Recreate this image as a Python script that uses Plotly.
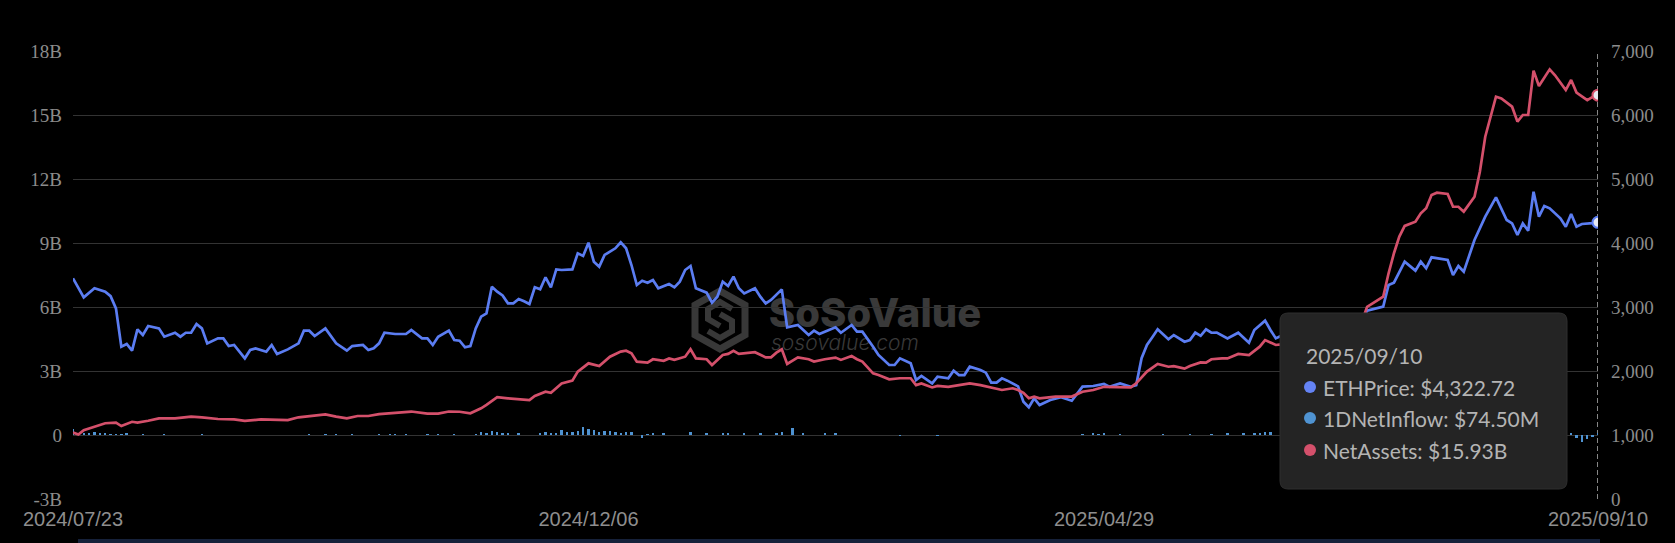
import plotly.graph_objects as go

# ---------------- data ----------------
holidays = ["2024-09-02", "2024-11-28", "2024-12-25", "2025-01-01", "2025-01-09",
            "2025-01-20", "2025-02-17", "2025-04-18", "2025-05-26", "2025-06-19",
            "2025-07-04", "2025-09-01"]

tick_dates = ["2024-07-23", "2024-12-06", "2025-04-29", "2025-09-10"]
tick_labels = ["2024/07/23", "2024/12/06", "2025/04/29", "2025/09/10"]

left_ticks = [-3, 0, 3, 6, 9, 12, 15, 18]
left_labels = ["-3B", "0", "3B", "6B", "9B", "12B", "15B", "18B"]
right_ticks = [0, 1000, 2000, 3000, 4000, 5000, 6000, 7000]

price_dates = [
    "2024-07-23", "2024-07-25", "2024-07-29", "2024-07-31", "2024-08-01", "2024-08-02", "2024-08-05",
    "2024-08-06", "2024-08-07", "2024-08-08", "2024-08-09", "2024-08-12", "2024-08-14", "2024-08-15",
    "2024-08-19", "2024-08-20", "2024-08-21", "2024-08-22", "2024-08-23", "2024-08-26", "2024-08-27",
    "2024-08-29", "2024-08-30", "2024-09-03", "2024-09-04", "2024-09-05", "2024-09-06", "2024-09-09",
    "2024-09-10", "2024-09-12", "2024-09-13", "2024-09-16", "2024-09-18", "2024-09-20", "2024-09-23",
    "2024-09-24", "2024-09-25", "2024-09-27", "2024-10-01", "2024-10-03", "2024-10-04", "2024-10-08",
    "2024-10-09", "2024-10-10", "2024-10-11", "2024-10-14", "2024-10-16", "2024-10-18", "2024-10-21",
    "2024-10-23", "2024-10-24", "2024-10-25", "2024-10-28", "2024-10-30", "2024-10-31", "2024-11-01",
    "2024-11-04", "2024-11-05", "2024-11-06", "2024-11-07", "2024-11-08", "2024-11-11", "2024-11-12",
    "2024-11-13", "2024-11-14", "2024-11-15", "2024-11-18", "2024-11-19", "2024-11-20", "2024-11-21",
    "2024-11-22", "2024-11-25", "2024-11-26", "2024-11-27", "2024-11-29", "2024-12-03", "2024-12-04",
    "2024-12-05", "2024-12-06", "2024-12-09", "2024-12-10", "2024-12-11", "2024-12-12", "2024-12-13",
    "2024-12-16", "2024-12-17", "2024-12-18", "2024-12-19", "2024-12-20", "2024-12-23", "2024-12-24",
    "2024-12-26", "2024-12-30", "2024-12-31", "2025-01-02", "2025-01-03", "2025-01-06", "2025-01-07",
    "2025-01-10", "2025-01-13", "2025-01-14", "2025-01-15", "2025-01-16", "2025-01-17", "2025-01-21",
    "2025-01-22", "2025-01-24", "2025-01-27", "2025-01-28", "2025-01-29", "2025-01-31", "2025-02-03",
    "2025-02-05", "2025-02-07", "2025-02-10", "2025-02-11", "2025-02-12", "2025-02-14", "2025-02-18",
    "2025-02-20", "2025-02-21", "2025-02-24", "2025-02-26", "2025-02-27", "2025-03-03", "2025-03-04",
    "2025-03-05", "2025-03-07", "2025-03-10", "2025-03-11", "2025-03-13", "2025-03-14", "2025-03-18",
    "2025-03-19", "2025-03-20", "2025-03-21", "2025-03-24", "2025-03-26", "2025-03-27", "2025-03-28",
    "2025-03-31", "2025-04-01", "2025-04-02", "2025-04-03", "2025-04-04", "2025-04-07", "2025-04-08",
    "2025-04-09", "2025-04-10", "2025-04-14", "2025-04-16", "2025-04-21", "2025-04-23", "2025-04-25",
    "2025-04-29", "2025-04-30", "2025-05-02", "2025-05-06", "2025-05-07", "2025-05-08", "2025-05-09",
    "2025-05-12", "2025-05-13", "2025-05-15", "2025-05-16", "2025-05-20", "2025-05-21", "2025-05-22",
    "2025-05-23", "2025-05-27", "2025-05-28", "2025-05-29", "2025-06-02", "2025-06-04", "2025-06-06",
    "2025-06-09", "2025-06-11", "2025-06-12", "2025-06-13", "2025-06-16", "2025-06-17", "2025-06-18",
    "2025-06-20", "2025-06-23", "2025-06-24", "2025-06-25", "2025-06-26", "2025-06-27", "2025-06-30",
    "2025-07-01", "2025-07-02", "2025-07-03", "2025-07-07", "2025-07-08", "2025-07-09", "2025-07-10",
    "2025-07-15", "2025-07-16", "2025-07-17", "2025-07-21", "2025-07-23", "2025-07-24", "2025-07-25",
    "2025-07-28", "2025-07-31", "2025-08-01", "2025-08-04", "2025-08-05", "2025-08-07", "2025-08-11",
    "2025-08-13", "2025-08-15", "2025-08-18", "2025-08-19", "2025-08-20", "2025-08-21", "2025-08-22",
    "2025-08-25", "2025-08-26", "2025-08-27", "2025-08-29", "2025-09-02", "2025-09-03", "2025-09-04",
    "2025-09-05", "2025-09-08", "2025-09-09", "2025-09-10"]
price_vals = [
    3448, 3151, 3292, 3240, 3170, 2979, 2380,
    2422, 2318, 2651, 2562, 2703, 2666, 2536,
    2598, 2536, 2598, 2598, 2734, 2666, 2432,
    2510, 2510, 2390, 2406, 2302, 2198, 2328,
    2354, 2302, 2406, 2265, 2338, 2432, 2630,
    2630, 2547, 2666, 2432, 2318, 2390, 2406,
    2328, 2354, 2432, 2598, 2578, 2578, 2640,
    2510, 2510, 2406, 2536, 2630, 2484, 2474,
    2370, 2390, 2666, 2849, 2901, 3317, 3240,
    3180, 3057, 3057, 3125, 3090, 3047, 3307,
    3276, 3464, 3307, 3588, 3578, 3588, 3839,
    3797, 4005, 3708, 3630, 3813, 3860, 3917,
    4010, 3917, 3656, 3344, 3411, 3380, 3422,
    3292, 3359, 3307, 3396, 3578, 3641, 3292,
    3224, 3068, 3161, 3396, 3328, 3474, 3292,
    3213, 3292, 3161, 3057, 3109, 3276, 2682,
    2719, 2562, 2630, 2578, 2614, 2682, 2598,
    2719, 2614, 2614, 2380, 2250, 2094, 2094,
    2198, 2120, 1859, 1922, 1807, 1911, 1885,
    2005, 1937, 1937, 2067, 2015, 1974, 1818,
    1818, 1885, 1849, 1800, 1760, 1520, 1433,
    1573, 1469, 1547, 1589, 1536, 1755, 1766,
    1797, 1755, 1807, 1755, 1780, 2200, 2406,
    2526, 2651, 2495, 2562, 2458, 2484, 2600,
    2550, 2651, 2598, 2600, 2510, 2598, 2443,
    2640, 2786, 2640, 2510, 2550, 2510, 2525,
    2420, 2400, 2450, 2420, 2430, 2420, 2490,
    2400, 2570, 2590, 2540, 2610, 2770, 2942,
    3005, 3344, 3380, 3708, 3568, 3708, 3604,
    3776, 3734, 3500, 3641, 3552, 4047, 4411,
    4714, 4359, 4307, 4125, 4307, 4192, 4802,
    4411, 4578, 4542, 4386, 4255, 4453, 4255,
    4297, 4300, 4310, 4322.72]

assets_dates = [
    "2024-07-23", "2024-07-24", "2024-07-25", "2024-07-29", "2024-07-31", "2024-08-02", "2024-08-05",
    "2024-08-07", "2024-08-08", "2024-08-12", "2024-08-14", "2024-08-19", "2024-08-22", "2024-08-26",
    "2024-08-29", "2024-09-04", "2024-09-06", "2024-09-11", "2024-09-16", "2024-09-18", "2024-09-20",
    "2024-09-24", "2024-09-27", "2024-10-01", "2024-10-03", "2024-10-07", "2024-10-09", "2024-10-11",
    "2024-10-16", "2024-10-18", "2024-10-21", "2024-10-24", "2024-10-28", "2024-10-30", "2024-11-01",
    "2024-11-05", "2024-11-07", "2024-11-08", "2024-11-12", "2024-11-14", "2024-11-18", "2024-11-20",
    "2024-11-21", "2024-11-25", "2024-11-26", "2024-11-29", "2024-12-03", "2024-12-04", "2024-12-06",
    "2024-12-10", "2024-12-12", "2024-12-16", "2024-12-17", "2024-12-18", "2024-12-19", "2024-12-23",
    "2024-12-24", "2024-12-27", "2024-12-30", "2024-12-31", "2025-01-03", "2025-01-06", "2025-01-07",
    "2025-01-10", "2025-01-13", "2025-01-15", "2025-01-16", "2025-01-17", "2025-01-21", "2025-01-24",
    "2025-01-28", "2025-01-29", "2025-01-30", "2025-01-31", "2025-02-03", "2025-02-05", "2025-02-07",
    "2025-02-10", "2025-02-12", "2025-02-14", "2025-02-18", "2025-02-20", "2025-02-21", "2025-02-24",
    "2025-02-26", "2025-02-27", "2025-03-03", "2025-03-05", "2025-03-07", "2025-03-10", "2025-03-11",
    "2025-03-13", "2025-03-14", "2025-03-18", "2025-03-20", "2025-03-24", "2025-03-26", "2025-03-28",
    "2025-04-01", "2025-04-03", "2025-04-04", "2025-04-07", "2025-04-08", "2025-04-09", "2025-04-10",
    "2025-04-15", "2025-04-17", "2025-04-21", "2025-04-23", "2025-04-25", "2025-04-29", "2025-05-02",
    "2025-05-06", "2025-05-07", "2025-05-09", "2025-05-13", "2025-05-15", "2025-05-16", "2025-05-20",
    "2025-05-21", "2025-05-23", "2025-05-27", "2025-05-28", "2025-05-30", "2025-06-02", "2025-06-04",
    "2025-06-06", "2025-06-10", "2025-06-11", "2025-06-13", "2025-06-16", "2025-06-17", "2025-06-18",
    "2025-06-20", "2025-06-23", "2025-06-24", "2025-06-25", "2025-06-26", "2025-06-27", "2025-06-30",
    "2025-07-01", "2025-07-02", "2025-07-03", "2025-07-07", "2025-07-08", "2025-07-09", "2025-07-10",
    "2025-07-15", "2025-07-16", "2025-07-17", "2025-07-18", "2025-07-21", "2025-07-23", "2025-07-24",
    "2025-07-25", "2025-07-28", "2025-07-29", "2025-07-31", "2025-08-01", "2025-08-04", "2025-08-05",
    "2025-08-07", "2025-08-08", "2025-08-11", "2025-08-13", "2025-08-14", "2025-08-18", "2025-08-19",
    "2025-08-20", "2025-08-21", "2025-08-22", "2025-08-25", "2025-08-27", "2025-08-28", "2025-09-02",
    "2025-09-03", "2025-09-04", "2025-09-08", "2025-09-09", "2025-09-10"]
assets_vals = [
    0.12, 0.02, 0.23, 0.39, 0.55, 0.58, 0.42,
    0.62, 0.58, 0.67, 0.78, 0.78, 0.86, 0.83,
    0.75, 0.73, 0.66, 0.73, 0.73, 0.70, 0.83,
    0.89, 0.97, 0.86, 0.78, 0.89, 0.89, 0.98,
    1.03, 1.09, 1.10, 1.00, 1.00, 1.10, 1.09,
    1.02, 1.25, 1.41, 1.77, 1.72, 1.69, 1.64,
    1.83, 2.03, 1.98, 2.42, 2.55, 2.97, 3.36,
    3.23, 3.67, 3.91, 3.95, 3.83, 3.44, 3.39,
    3.55, 3.48, 3.59, 3.52, 3.67, 4.02, 3.59,
    3.55, 3.28, 3.75, 3.80, 3.95, 3.80, 3.88,
    3.64, 3.64, 3.86, 4.02, 3.33, 3.64, 3.55,
    3.44, 3.55, 3.63, 3.52, 3.70, 3.55, 3.44,
    2.89, 2.81, 2.61, 2.66, 2.66, 2.34, 2.42,
    2.23, 2.30, 2.26, 2.34, 2.42, 2.34, 2.23,
    2.11, 2.19, 2.11, 1.98, 1.72, 1.80, 1.72,
    1.80, 1.80, 1.80, 2.03, 2.11, 2.26, 2.26,
    2.23, 2.42, 2.97, 3.33, 3.20, 3.23, 3.11,
    3.23, 3.40, 3.39, 3.55, 3.59, 3.59, 3.80,
    3.75, 4.14, 4.45, 4.22, 4.25, 4.20, 4.15,
    4.05, 4.00, 4.15, 4.15, 4.20, 4.25, 4.35,
    4.30, 4.55, 4.70, 4.70, 4.85, 5.30, 6.01,
    6.48, 7.58, 8.52, 9.30, 9.80, 10.00, 10.39,
    10.63, 11.25, 11.36, 11.30, 10.70, 10.70, 10.47,
    11.17, 12.34, 13.98, 15.86, 15.78, 15.39, 14.69,
    15.00, 15.00, 17.08, 16.36, 17.14, 16.86, 16.17,
    16.64, 16.05, 15.70, 15.85, 15.93]

# 1D net inflow, $M
inflow_dates = [
    "2024-07-23", "2024-07-24", "2024-07-25", "2024-07-26", "2024-07-29", "2024-07-30", "2024-07-31",
    "2024-08-01", "2024-08-02", "2024-08-05", "2024-08-06", "2024-08-09", "2024-08-15", "2024-08-26",
    "2024-09-24", "2024-09-27", "2024-10-01", "2024-10-04", "2024-10-11", "2024-10-15", "2024-10-16",
    "2024-10-18", "2024-10-24", "2024-10-28", "2024-10-31", "2024-11-06", "2024-11-07", "2024-11-08",
    "2024-11-11", "2024-11-12", "2024-11-13", "2024-11-14", "2024-11-18", "2024-11-22", "2024-11-25",
    "2024-11-26", "2024-11-27", "2024-11-29", "2024-12-02", "2024-12-03", "2024-12-04", "2024-12-05",
    "2024-12-06", "2024-12-09", "2024-12-10", "2024-12-11", "2024-12-12", "2024-12-13", "2024-12-16",
    "2024-12-17", "2024-12-18", "2024-12-20", "2024-12-23", "2024-12-24", "2024-12-27", "2025-01-06",
    "2025-01-10", "2025-01-15", "2025-01-16", "2025-01-22", "2025-01-27", "2025-01-30", "2025-01-31",
    "2025-02-04", "2025-02-06", "2025-02-12", "2025-02-14", "2025-03-05", "2025-03-14", "2025-04-23",
    "2025-04-25", "2025-04-28", "2025-04-29", "2025-05-02", "2025-05-14", "2025-05-21", "2025-05-28",
    "2025-06-02", "2025-06-05", "2025-06-09", "2025-06-10", "2025-06-11", "2025-06-12", "2025-07-10",
    "2025-07-11", "2025-07-16", "2025-07-17", "2025-07-18", "2025-07-21", "2025-07-22", "2025-07-23",
    "2025-07-25", "2025-07-29", "2025-08-08", "2025-08-11", "2025-08-12", "2025-08-13", "2025-08-14",
    "2025-08-15", "2025-08-19", "2025-08-21", "2025-08-22", "2025-08-25", "2025-08-26", "2025-08-27",
    "2025-08-28", "2025-08-29", "2025-09-02", "2025-09-03", "2025-09-04", "2025-09-05", "2025-09-08",
    "2025-09-09", "2025-09-10"]
inflow_vals = [
    266, 17, 70, 50, 118, 58, 50,
    26, 40, 47, 60, 20, 10, 8,
    15, 25, 15, 20, 15, 30, 20,
    25, 15, 20, 30, 20, 120, 90,
    200, 130, 100, 60, 50, 100, 140,
    60, 70, 250, 120, 130, 200, 390,
    300, 230, 140, 190, 200, 160, 90,
    150, 130, -120, 40, 60, 80, 125,
    60, 80, 100, 100, 50, 100, 150,
    320, 100, 50, 60, -20, -30, 40,
    50, 40, 60, 30, 40, 30, 40,
    70, 60, 50, 80, 130, 120, 300,
    200, 490, 550, 440, 300, 400, 330,
    440, 250, 250, 640, 320, 520, 500,
    340, -300, 230, 230, 320, 260, 260,
    300, -60, -130, 50, -150, -309, -190,
    -100, 74.5]

# ---------------- styling ----------------
BG = "#000000"
GRID = "#333333"
LABEL = "#8c8c8c"
BLUE = "#5b7df2"
RED = "#d4506b"
BAR = "#4f93d2"

L, R, T, B = 73, 1598, 51, 499


def fx(x):
    return (x - L) / (R - L)


def fy(y):
    return (B - y) / (B - T)


fig = go.Figure()

fig.add_trace(go.Scatter(x=price_dates, y=price_vals, mode="lines", name="ETHPrice",
                         line=dict(color=BLUE, width=2.7), yaxis="y"))
fig.add_trace(go.Bar(x=inflow_dates, y=[v / 1000 for v in inflow_vals], name="1DNetInflow",
                     marker=dict(color=BAR, line=dict(width=0)), width=0.45 * 86400000,
                     yaxis="y2"))
fig.add_trace(go.Scatter(x=assets_dates, y=assets_vals, mode="lines", name="NetAssets",
                         line=dict(color=RED, width=2.7), yaxis="y2"))
# end markers
fig.add_trace(go.Scatter(x=[price_dates[-1]], y=[price_vals[-1]], mode="markers",
                         marker=dict(size=11, color="#e6e8f2", line=dict(color=BLUE, width=2)),
                         yaxis="y"))
fig.add_trace(go.Scatter(x=[assets_dates[-1]], y=[assets_vals[-1]], mode="markers",
                         marker=dict(size=11, color="#e6e8f2", line=dict(color=RED, width=2)),
                         yaxis="y2"))

shapes = []
# watermark (below everything)
hexpath = "M {} {} L {} {} L {} {} L {} {} L {} {} L {} {} Z".format(
    fx(720), fy(291), fx(745), fy(305), fx(745), fy(335), fx(720), fy(349), fx(695), fy(335), fx(695), fy(305))
shapes.append(dict(type="path", xref="paper", yref="paper", path=hexpath, layer="below",
                   line=dict(color="#383838", width=7)))
inner = "M {} {} L {} {} L {} {} L {} {} L {} {} M {} {} L {} {} L {} {} L {} {} L {} {}".format(
    fx(732), fy(309), fx(720), fy(302), fx(708), fy(309), fx(708), fy(319), fx(720), fy(326),
    fx(708), fy(331), fx(720), fy(338), fx(732), fy(331), fx(732), fy(321), fx(720), fy(314))
shapes.append(dict(type="path", xref="paper", yref="paper", path=inner, layer="below",
                   line=dict(color="#383838", width=6)))
shapes.append(dict(type="rect", xref="paper", yref="paper", x0=fx(765), x1=fx(985), y0=fy(330), y1=fy(292),
                   layer="below", line=dict(width=0), fillcolor="rgba(0,0,0,0)",
                   label=dict(text="SoSoValue", textposition="middle center",
                              font=dict(family="Inter", size=40, color="#393939", weight=800))))
shapes.append(dict(type="rect", xref="paper", yref="paper", x0=fx(765), x1=fx(910), y0=fy(352), y1=fy(330),
                   layer="below", line=dict(width=0), fillcolor="rgba(0,0,0,0)",
                   label=dict(text="sosovalue.com", textposition="middle left",
                              font=dict(family="Inter", size=21, color="#393939", weight=300, style="italic"))))
# dashed cursor line
shapes.append(dict(type="line", xref="x", yref="paper", x0=price_dates[-1], x1=price_dates[-1], y0=0, y1=1,
                   layer="below", line=dict(color="#cfcfcf", width=1.3, dash="5px,3px")))
# bottom slider strip
shapes.append(dict(type="rect", xref="paper", yref="paper", x0=fx(78), x1=fx(1600), y0=fy(543), y1=fy(539),
                   line=dict(width=0), fillcolor="#16213a", layer="above"))

# tooltip box
x0, x1, y0, y1, r = fx(1280), fx(1567), fy(489), fy(313), 8
rx, ry = r / (R - L), r / (B - T)
box = ("M {a} {b} L {c} {b} Q {x1} {b} {x1} {d} L {x1} {e} Q {x1} {y1} {c} {y1} L {a} {y1} "
       "Q {x0} {y1} {x0} {e} L {x0} {d} Q {x0} {b} {a} {b} Z").format(
    a=x0 + rx, b=y0, c=x1 - rx, d=y0 + ry, e=y1 - ry, x0=x0, x1=x1, y1=y1)
shapes.append(dict(type="path", xref="paper", yref="paper", path=box, layer="above",
                   fillcolor="#242424", line=dict(color="#2e2e2e", width=1)))

tip_rows = [("ETHPrice: $4,322.72", "#6483f5", 387),
            ("1DNetInflow: $74.50M", "#4f93d2", 418),
            ("NetAssets: $15.93B", "#d4506b", 450)]
annotations = [dict(xref="paper", yref="paper", x=fx(1304), y=fy(355), text="2025/09/10",
                    showarrow=False, xanchor="left", yanchor="middle",
                    font=dict(family="Lato", size=21, color="#b4b4b4"))]
for txt, col, yy in tip_rows:
    shapes.append(dict(type="circle", xref="paper", yref="paper", x0=fx(1304), x1=fx(1316),
                       y0=fy(yy + 6), y1=fy(yy - 6), fillcolor=col, line=dict(width=0), layer="above"))
    annotations.append(dict(xref="paper", yref="paper", x=fx(1321), y=fy(yy), text=txt,
                            showarrow=False, xanchor="left", yanchor="middle",
                            font=dict(family="Lato", size=21, color="#b4b4b4")))

fig.update_layout(
    width=1675, height=543,
    margin=dict(l=L, r=1675 - R, t=T, b=543 - B, autoexpand=False),
    paper_bgcolor=BG, plot_bgcolor=BG,
    showlegend=False, hovermode=False, bargap=0,
    xaxis=dict(type="date", range=[tick_dates[0], tick_dates[-1]],
               rangebreaks=[dict(bounds=["sat", "mon"]), dict(values=holidays)],
               tickmode="array", tickvals=tick_dates, ticktext=tick_labels,
               showgrid=False, zeroline=False, showline=False, ticks="",
               tickfont=dict(family="Liberation Sans", size=20, color="#8e8e8e"),
               ticklabelstandoff=6, automargin=False),
    yaxis=dict(side="right", range=[0, 7000], tickmode="array", tickvals=right_ticks,
               tickformat=",", showgrid=True, gridcolor=GRID, gridwidth=1, zeroline=False,
               showline=False, ticks="", ticklabelstandoff=12,
               tickfont=dict(family="Liberation Serif", size=19, color=LABEL), automargin=False),
    yaxis2=dict(side="left", overlaying="y", range=[-3, 18], tickmode="array", tickvals=left_ticks,
                ticktext=left_labels, showgrid=False, zeroline=False, showline=False, ticks="",
                ticklabelstandoff=10,
                tickfont=dict(family="Liberation Serif", size=19, color=LABEL), automargin=False),
    shapes=shapes, annotations=annotations,
)

fig.write_html("out.html", config={"displayModeBar": False},
               post_script="document.body.style.margin='0';document.body.style.background='#000';")
